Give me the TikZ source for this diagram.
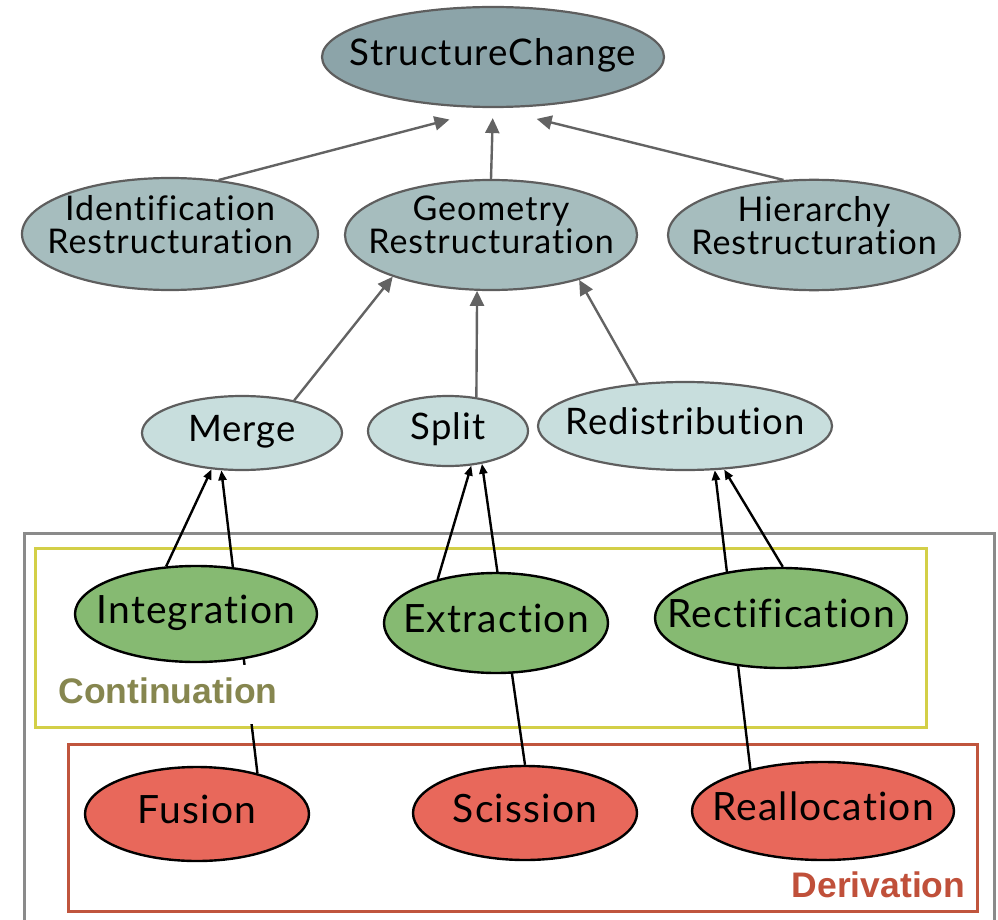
\documentclass[tikz,border=0pt]{standalone}
\usepackage{fontspec}
\newfontfamily\nodefont[LetterSpace=3, Ligatures=NoCommon]{Lato}
\newfontfamily\tagfont{Liberation Sans}
\usetikzlibrary{shapes.geometric,arrows.meta,backgrounds}
\definecolor{topfill}{HTML}{8CA4A9}
\definecolor{restrfill}{HTML}{A6BDBE}
\definecolor{opfill}{HTML}{C8DEDD}
\definecolor{contfill}{HTML}{86BA72}
\definecolor{derivfill}{HTML}{E8685B}
\definecolor{rim}{HTML}{5E5E5E}
\definecolor{edgegray}{HTML}{636363}
\definecolor{framegray}{HTML}{8A8A8A}
\definecolor{contline}{HTML}{D3CF47}
\definecolor{derivline}{HTML}{C0553D}
\definecolor{conttext}{HTML}{86864F}
\definecolor{derivtext}{HTML}{C0503A}
\newcommand\ctr[1]{\makebox[0pt]{#1}}
\begin{document}
\begin{tikzpicture}[x=1pt, y=-1pt,
        blob/.style={ellipse, inner sep=0pt, line width=2.2pt},
        upper/.style={blob, draw=rim},
        lower/.style={blob, draw=black, line width=2.4pt},
        gen/.style={upper, fill=topfill, font=\nodefont\fontsize{36.7}{40}\selectfont, text height=26.4pt, text depth=8.8pt},
        restr/.style={upper, fill=restrfill, align=center, font=\nodefont\fontsize{34}{33}\selectfont, text depth=20pt},
        oper/.style={upper, fill=opfill, font=\nodefont\fontsize{36.5}{38}\selectfont, text height=26.3pt, text depth=8.8pt},
        cont/.style={lower, fill=contfill, font=\nodefont\fontsize{39}{40}\selectfont, text height=28.1pt, text depth=9.4pt},
        deriv/.style={lower, fill=derivfill, font=\nodefont\fontsize{39}{40}\selectfont, text height=28.1pt, text depth=9.4pt},
        tag/.style={inner sep=0pt, font=\tagfont\bfseries\fontsize{35.5}{36}\selectfont},
        up/.style={draw=edgegray, line width=2.4pt, -{Triangle[length=15pt,width=14pt]}},
        link/.style={draw=black, line width=2.4pt, -{Triangle[length=10pt,width=8pt]}}
    ]
    \useasboundingbox (0,0) rectangle (998,920);

    \node[gen, minimum width=342pt, minimum height=100pt] (sc) at (493,57) {\ctr{StructureChange}};

    \node[restr, minimum width=296pt, minimum height=112pt] (idr) at (170,234) {\ctr{Identification}\\\ctr{Restructuration}};
    \node[restr, minimum width=292pt, minimum height=110pt] (geo) at (491,235) {\ctr{Geometry}\\\ctr{Restructuration}};
    \node[restr, minimum width=292pt, minimum height=110pt] (hier) at (814,235) {\ctr{Hierarchy}\\\ctr{Restructuration}};

    \node[oper, minimum width=200pt, minimum height=74pt] (merge) at (242,433) {\ctr{Merge}};
    \node[oper, minimum width=160pt, minimum height=70pt] (split) at (448,431) {\ctr{Split}};
    \node[oper, minimum width=294pt, minimum height=88pt] (redis) at (685,426) {\ctr{Redistribution}};

    \node[cont, minimum width=242pt, minimum height=96pt] (integ) at (196,614) {\ctr{Integration}};
    \node[cont, minimum width=224pt, minimum height=100pt] (extr) at (496,623) {\ctr{Extraction}};
    \node[cont, minimum width=252pt, minimum height=100pt] (rect) at (781,618) {\ctr{Rectification}};

    \node[deriv, minimum width=224pt, minimum height=94pt] (fus) at (197,814) {\ctr{Fusion}};
    \node[deriv, minimum width=224pt, minimum height=94pt] (sciss) at (525,813) {\ctr{Scission}};
    \node[deriv, minimum width=262pt, minimum height=98pt] (realloc) at (823,811) {\ctr{Reallocation}};

    \node[tag, text=conttext, fill=white, inner xsep=3pt, inner ysep=2pt, text height=36pt, text depth=19pt] (conttag) at (168,694.5) {Continuation};
    \node[tag, text=derivtext, text height=25.5pt, text depth=0pt] (derivtag) at (878.5,885) {Derivation};

    \begin{scope}[on background layer]
        \draw[framegray, line width=3pt] (24,920) -- (24,533) -- (994,533) -- (994,920);
        \draw[contline, line width=3pt] (35,548) rectangle (926,727);
        \draw[derivline, line width=3pt] (68,744) rectangle (977,911);

        \draw[up, shorten >=45pt] (idr.48) -- (sc.south);
        \draw[up, shorten >=10pt] (geo.north) -- (sc.south);
        \draw[up, shorten >=45pt] (hier.119) -- (sc.south);

        \draw[up] (merge.32) -- (geo.203);
        \draw[up] (split.50) -- (geo.256);
        \draw[up] (redis.138) -- (geo.333);

        \draw[link] (integ.122) -- (merge.230);
        \draw[link] (fus.34) -- (merge.241);
        \draw[link] (extr.143) -- (split.304);
        \draw[link] (sciss.north) -- (split.316);
        \draw[link] (rect.88) -- (redis.312);
        \draw[link] (realloc.150) -- (redis.304);
    \end{scope}
\end{tikzpicture}
\end{document}
